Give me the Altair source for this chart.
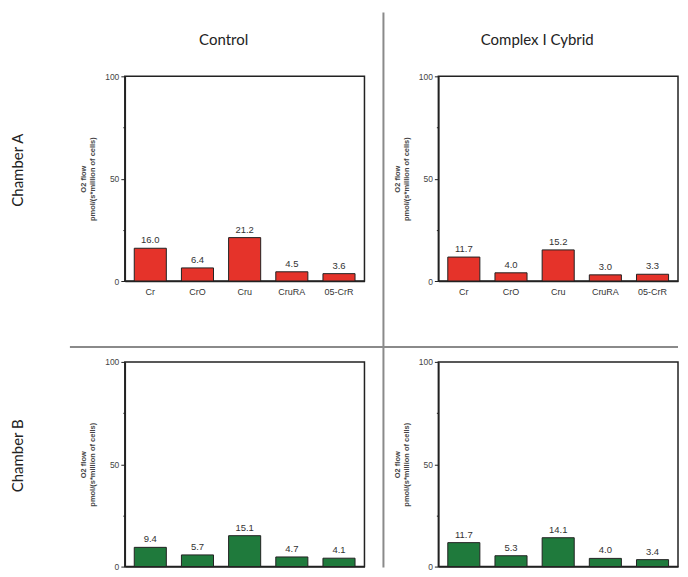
import altair as alt
import pandas as pd

categories = ["Cr", "CrO", "Cru", "CruRA", "05-CrR"]
control_a = [16.0, 6.4, 21.2, 4.5, 3.6]
cybrid_a = [11.7, 4.0, 15.2, 3.0, 3.3]
control_b = [9.4, 5.7, 15.1, 4.7, 4.1]
cybrid_b = [11.7, 5.3, 14.1, 4.0, 3.4]
col_titles = ["Control", "Complex I Cybrid"]
row_labels = ["Chamber A", "Chamber B"]
y_ticks = [0, 25, 50, 75, 100]

RED = "#e5332a"
GREEN = "#1f7a3c"
W, H = 240, 205
SP_COL, SP_ROW = 74, 81
AXIS_FONT = "Liberation Sans"
TITLE_FONT = "Lato"


def panel(values, color, col_title=None, row_label=None, dividers=False, xlabels=True):
    df = pd.DataFrame({"cat": categories, "val": values})
    base = alt.Chart(df)
    x = alt.X("cat:N", sort=categories,
              scale=alt.Scale(paddingInner=0.32, paddingOuter=0.2),
              axis=alt.Axis(title=None, labelAngle=0, ticks=False, labelPadding=7,
                            labels=xlabels,
                            labelFontSize=9, labelFont=AXIS_FONT, labelColor="#333",
                            domainColor="#222", domainWidth=1.5))
    y = alt.Y("val:Q", scale=alt.Scale(domain=[0, 100], nice=False),
              axis=alt.Axis(title=["O2 flow", "pmol/(s*million of cells)"],
                            titleFontSize=7.5, titleFont=AXIS_FONT, titleFontWeight="bold",
                            titleColor="#444", titlePadding=8, titleLineHeight=9,
                            values=y_ticks, grid=False,
                            labelExpr="datum.value % 50 == 0 ? datum.label : ''",
                            tickSize={"condition": {"test": "datum.value % 50 != 0", "value": 2},
                                      "value": 4},
                            labelFontSize=8.5, labelFont=AXIS_FONT, labelColor="#444",
                            tickColor="#222", domainColor="#222", domainWidth=1.5))
    bars = base.mark_bar(color=color, stroke="#222", strokeWidth=1).encode(x=x, y=y)
    labels = base.mark_text(dy=-8, fontSize=9.5, font=AXIS_FONT, color="#333").encode(
        x=alt.X("cat:N", sort=categories), y="val:Q", text=alt.Text("val:Q", format=".1f"))
    layers = [bars, labels]
    if col_title is not None:
        layers.append(alt.Chart(pd.DataFrame({"t": [col_title]})).mark_text(
            fontSize=15, font=TITLE_FONT, color="#222").encode(
            text="t:N", x=alt.value(W / 2 - 21), y=alt.value(-36)))
    if row_label is not None:
        layers.append(alt.Chart(pd.DataFrame({"t": [row_label]})).mark_text(
            fontSize=15, font=TITLE_FONT, color="#222", angle=270).encode(
            text="t:N", x=alt.value(-107), y=alt.value(94)))
    if dividers:
        layers.append(alt.Chart(pd.DataFrame({"d": [0]})).mark_rule(
            color="#8a8a8a", strokeWidth=2).encode(
            x=alt.value(W + 19), y=alt.value(-64), y2=alt.value(2 * H + SP_ROW + 1)))
        layers.append(alt.Chart(pd.DataFrame({"d": [0]})).mark_rule(
            color="#8a8a8a", strokeWidth=2).encode(
            y=alt.value(H + 66), x=alt.value(-55), x2=alt.value(2 * W + SP_COL)))
    return alt.layer(*layers).properties(width=W, height=H)


tl = panel(control_a, RED, col_titles[0], row_labels[0], dividers=True)
tr = panel(cybrid_a, RED, col_titles[1])
bl = panel(control_b, GREEN, None, row_labels[1], xlabels=False)
br = panel(cybrid_b, GREEN, xlabels=False)

chart = alt.concat(tl, tr, bl, br, columns=2, spacing={"row": SP_ROW, "column": SP_COL},
                   bounds="flush").properties(
    padding={"left": 2, "top": 2, "right": 0, "bottom": 0}
).configure(background="white").configure_view(stroke="#222", strokeWidth=1.5)

chart.save("out.html", embed_options={"renderer": "svg", "actions": False})
